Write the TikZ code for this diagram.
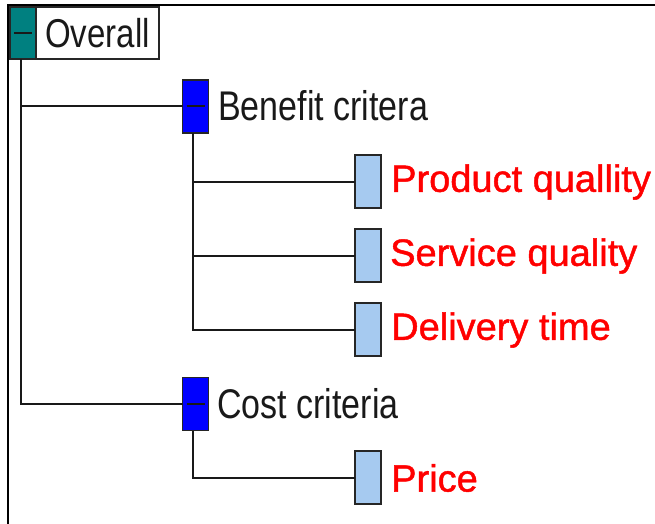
\documentclass[tikz,border=0pt]{standalone}
\usepackage{fontspec}
\setmainfont{Liberation Sans}
% slightly heavier face for the leaf criteria
\newfontfamily\leaffont[FakeBold=1.2]{Liberation Sans}
\definecolor{tealbox}{HTML}{008080}
\definecolor{groupbox}{HTML}{0000FF}
\definecolor{leafbox}{HTML}{A6CAF0}
\definecolor{leaftext}{HTML}{FF0000}
% tall, narrow system-style lettering
\newcommand{\tallText}[1]{\scalebox{1}[1.22]{#1}}
\begin{document}
\begin{tikzpicture}[x=1pt,y=-1pt,
  wire/.style={draw=black!90, line width=2pt},
  frame/.style={draw=black, line width=2.2pt},
  box/.style={draw=black!85, line width=1.8pt, minimum width=26pt, minimum height=53pt,
    inner sep=0pt, outer sep=0pt},
  rootbox/.style={box, fill=tealbox, minimum height=52pt},
  groupbox/.style={box, fill=groupbox},
  leafbox/.style={box, fill=leafbox},
  minus/.style={draw=black!90, line width=2pt},
  label/.style={anchor=west, inner sep=0pt, font=\fontsize{34}{40}\selectfont},
  grouplabel/.style={label, text=black!90},
  leaflabel/.style={label, text=leaftext, font=\leaffont\fontsize{38}{44}\selectfont},
]
\useasboundingbox (0,0) rectangle (655,524);

% window frame
\draw[frame] (8,524) -- (8,5) -- (655,5);

% root
\node[rootbox] (root) at (23,33) {};
\node[box, fill=white, minimum width=123pt, minimum height=52pt, anchor=west,
  font=\fontsize{33}{40}\selectfont, text=black!90] (roottext) at (root.east) {\tallText{Overall}};
\draw[minus] ([xshift=-9]root.center) -- ([xshift=9]root.center);

% groups
\node[groupbox] (benefit) at (195.5,106.5) {};
\node[grouplabel] (benefittext) at (218,106) {\tallText{Benefit critera}};
\draw[minus] ([xshift=-9]benefit.center) -- ([xshift=9]benefit.center);

\node[groupbox] (cost) at (195.5,404) {};
\node[grouplabel] (costtext) at (217,404) {\tallText{Cost criteria}};
\draw[minus] ([xshift=-9]cost.center) -- ([xshift=9]cost.center);

% leaves
\node[leafbox] (pq) at (368,181.5) {};
\node[leaflabel] (pqtext) at (391,182) {Product quallity};
\node[leafbox] (sq) at (368,255.5) {};
\node[leaflabel] (sqtext) at (390,256) {Service quality};
\node[leafbox] (dt) at (368,329.5) {};
\node[leaflabel] (dttext) at (391,330) {Delivery time};
\node[leafbox] (pr) at (368,477.5) {};
\node[leaflabel] (prtext) at (391,478) {Price};

% connectors
\coordinate (rootstem) at (21,59);
\coordinate (benefitstem) at (193,133);
\coordinate (coststem) at (193,430.5);
\draw[wire] (rootstem) |- (cost.west);
\draw[wire] (rootstem |- benefit.west) -- (benefit.west);
\draw[wire] (benefitstem) |- (dt.west);
\draw[wire] (benefitstem |- pq.west) -- (pq.west);
\draw[wire] (benefitstem |- sq.west) -- (sq.west);
\draw[wire] (coststem) |- (pr.west);
\end{tikzpicture}
\end{document}
